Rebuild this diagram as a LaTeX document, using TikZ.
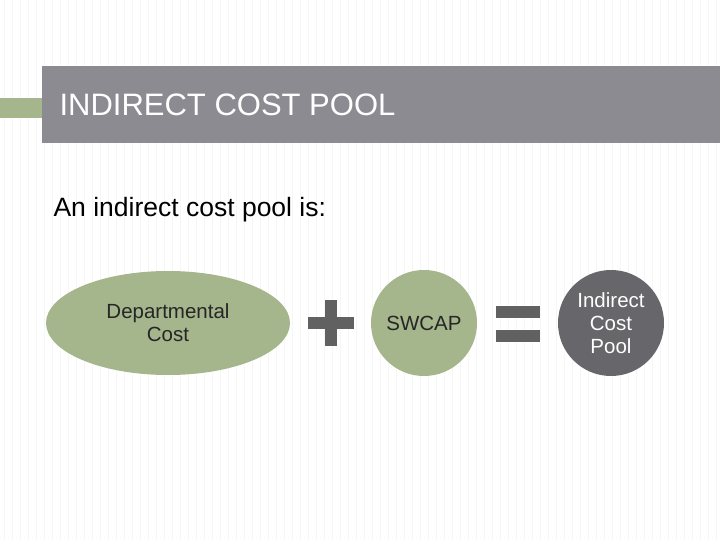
\documentclass[tikz,border=0pt]{standalone}
\usepackage{fontspec}
\usetikzlibrary{shapes.geometric}
\setmainfont{Liberation Sans}
\definecolor{sage}{RGB}{165,181,140}
\definecolor{titlegray}{RGB}{140,139,145}
\definecolor{darkpool}{RGB}{103,103,107}
\begin{document}
\begin{tikzpicture}[x=1pt,y=-1pt,
  txt/.style={font=\fontsize{20.5}{23}\selectfont,align=center,text=black!85}]
\useasboundingbox (0,0) rectangle (720,540);
\fill[white] (0,0) rectangle (720,540);
\foreach \i in {0,...,89} \draw[black!3.5,line width=0.8pt] (\i*8+4,0) -- (\i*8+4,540);
\fill[titlegray] (42,66) rectangle (720,143);
\fill[sage] (0,98) rectangle (42,118);
\node[anchor=west,text=white,font=\fontsize{31}{33}\selectfont] (title) at (56,105) {INDIRECT COST POOL};
\node[anchor=west,font=\fontsize{26.5}{28}\selectfont] (intro) at (50,210) {An indirect cost pool is:};
\node[ellipse,minimum width=244,minimum height=104,fill=sage,txt] (dept) at (168,323) {Departmental\\Cost};
\node[circle,minimum size=106,fill=sage,txt] (sw) at (424,323) {SWCAP};
\node[circle,minimum size=106,fill=darkpool,txt,text=white] (icp) at (611,323) {Indirect\\Cost\\Pool};
\fill[black!62] (308,317) rectangle (354,329);
\fill[black!62] (325,300) rectangle (337,346);
\fill[black!62] (496,306) rectangle (540,318);
\fill[black!62] (496,330) rectangle (540,342);
\end{tikzpicture}
\end{document}
